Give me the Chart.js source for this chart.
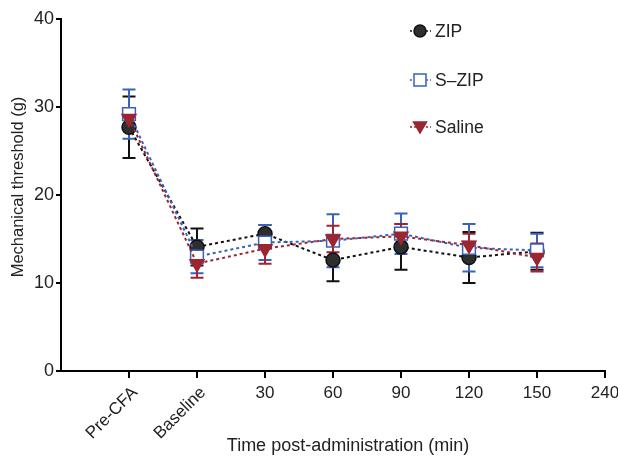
<!DOCTYPE html>
<html>
<head>
<meta charset="utf-8">
<script src="https://cdn.jsdelivr.net/npm/chart.js@4.4.1/dist/chart.umd.min.js"></script>
<style>
  html, body { margin: 0; padding: 0; background: #fff; }
  #wrap { width: 618px; height: 457px; }
</style>
</head>
<body>
<div id="wrap"><canvas id="chart" width="618" height="457"></canvas></div>
<script>
// x positions: a blank slot at the axis origin, then the time points
const xLabels = ['', 'Pre-CFA', 'Baseline', '30', '60', '90', '120', '150', '240'];
const rotatedLabels = ['Pre-CFA', 'Baseline'];
const yTicks = [0, 10, 20, 30, 40];

// means and SEM (Pre-CFA .. 150 min)
const zipMean    = [27.7, 14.1, 15.6, 12.6, 14.1, 12.9, 13.6];
const zipErr     = [3.5, 2.1, 1.0, 2.4, 2.6, 2.9, 2.1];
const szipMean   = [29.2, 13.0, 14.6, 14.8, 15.6, 14.0, 13.7];
const szipErr    = [2.8, 1.9, 2.0, 3.0, 2.3, 2.7, 1.9];
const salineMean = [28.7, 12.2, 13.9, 15.0, 15.3, 14.3, 12.9];
const salineErr  = [1.0, 1.6, 1.7, 1.5, 1.4, 1.3, 1.6];

const FONT = '"Liberation Sans", Arial, Helvetica, sans-serif';
const TXT = '#222';

function pad(vals){ return [null].concat(vals, [null]); }

const series = [
  { label:'ZIP', mean:zipMean, err:zipErr, line:'#111', fill:'#2e2e2e', shape:'circle', r:7, order:3 },
  { label:'S\u2013ZIP', mean:szipMean, err:szipErr, line:'#3a62bd', fill:'#ffffff', shape:'rect', r:9, order:2 },
  { label:'Saline', mean:salineMean, err:salineErr, line:'#9b2632', fill:'#9b2632', shape:'triangle', r:8, order:1 }
];

// error bars, custom x labels, legend and titles
const extras = {
  id:'extras',
  beforeDatasetsDraw(chart){
    const c = chart.ctx, xs = chart.scales.x, ys = chart.scales.y;
    c.save();
    c.lineWidth = 2;
    series.forEach(s => {
      c.strokeStyle = s.line;
      s.mean.forEach((m, i) => {
        const x = xs.getPixelForValue(i + 1);
        const top = ys.getPixelForValue(m + s.err[i]);
        const bot = ys.getPixelForValue(m - s.err[i]);
        c.beginPath();
        c.moveTo(x, top); c.lineTo(x, bot);
        c.moveTo(x - 6.5, top); c.lineTo(x + 6.5, top);
        c.moveTo(x - 6.5, bot); c.lineTo(x + 6.5, bot);
        c.stroke();
      });
    });
    c.restore();
  },
  afterDraw(chart){
    const c = chart.ctx, xs = chart.scales.x;
    c.save();
    c.fillStyle = TXT;
    c.font = '17px ' + FONT;
    // x tick labels
    xLabels.forEach((lab, i) => {
      if (!lab) return;
      const x = xs.getPixelForValue(i);
      if (rotatedLabels.includes(lab)) {
        c.save();
        c.translate(x + 6, 390);
        c.rotate(-Math.PI / 4);
        c.textAlign = 'right';
        c.textBaseline = 'middle';
        c.fillText(lab, 0, 0);
        c.restore();
      } else {
        c.textAlign = 'center';
        c.textBaseline = 'middle';
        c.fillText(lab, x, 393.5);
      }
    });
    // axis titles
    c.textAlign = 'center';
    c.textBaseline = 'middle';
    c.font = '18px ' + FONT;
    c.fillText('Time post-administration (min)', 348, 446);
    c.save();
    c.translate(18, 187);
    c.rotate(-Math.PI / 2);
    c.font = '16.5px ' + FONT;
    c.fillText('Mechanical threshold (g)', 0, 0);
    c.restore();
    // legend
    const ly = [31, 80, 127];
    series.forEach((s, k) => {
      const y = ly[k];
      c.strokeStyle = s.line;
      c.lineWidth = 1.5;
      c.setLineDash([2, 2]);
      c.beginPath(); c.moveTo(410, y); c.lineTo(431, y); c.stroke();
      c.setLineDash([]);
      c.fillStyle = s.fill;
      c.lineWidth = 1.5;
      c.beginPath();
      if (s.shape === 'circle') c.arc(420, y, 6, 0, Math.PI * 2);
      else if (s.shape === 'rect') c.rect(414, y - 6, 12, 12);
      else { c.moveTo(413.5, y - 5); c.lineTo(426.5, y - 5); c.lineTo(420, y + 6); c.closePath(); }
      c.fill(); c.stroke();
      c.fillStyle = TXT;
      c.textAlign = 'left';
      c.font = '17.5px ' + FONT;
      c.fillText(s.label, 435, y + 1);
    });
    c.restore();
  }
};

new Chart(document.getElementById('chart'), {
  type:'line',
  data:{
    labels:xLabels,
    datasets:series.map(s => ({
      label:s.label,
      data:pad(s.mean),
      order:s.order,
      borderColor:s.line,
      borderWidth:2,
      borderDash:[3, 3],
      backgroundColor:s.fill,
      pointBackgroundColor:s.fill,
      pointBorderColor:s.line,
      pointBorderWidth:1.5,
      pointStyle:s.shape,
      pointRotation:s.shape === 'triangle' ? 180 : 0,
      pointRadius:s.r,
      pointHoverRadius:s.r,
      tension:0,
      fill:false
    }))
  },
  options:{
    responsive:false,
    animation:false,
    layout:{ padding:{ top:19, right:13, left:0, bottom:0 } },
    plugins:{ legend:{ display:false }, tooltip:{ enabled:false } },
    scales:{
      x:{
        type:'category',
        offset:false,
        afterFit(scale){ scale.height = 86; },
        border:{ display:true, color:'#000', width:2 },
        grid:{
          drawOnChartArea:false,
          drawTicks:true,
          tickLength:7,
          lineWidth:2,
          color:ctx => ctx.index === 0 ? 'rgba(0,0,0,0)' : '#000'
        },
        ticks:{ display:false, autoSkip:false }
      },
      y:{
        min:0, max:40,
        afterFit(scale){ scale.width = 61; },
        afterBuildTicks(scale){ scale.ticks = yTicks.map(v => ({ value:v })); },
        border:{ display:true, color:'#000', width:2 },
        grid:{ drawOnChartArea:false, drawTicks:true, tickLength:5, lineWidth:2, color:'#000' },
        ticks:{ color:TXT, padding:2, font:{ family:FONT, size:18 } }
      }
    }
  },
  plugins:[extras]
});
</script>
</body>
</html>
